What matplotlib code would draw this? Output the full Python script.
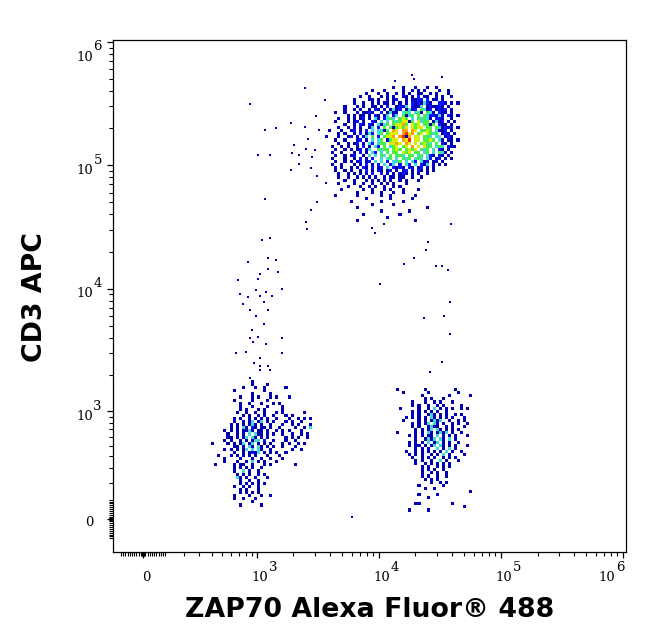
import numpy as np
import matplotlib
matplotlib.use("Agg")
import matplotlib.pyplot as plt
from matplotlib.colors import ListedColormap

# ---- data -----------------------------------------------------------------
# density grids: one char per bin ('.' = empty,
# 1..7 = blue -> red density level), bins are 1/40 of a display unit
top_origin = (3250, 439000)   # upper-left corner of the grid (x, y intensity)
top_grid = [
    "........................1..1...1...1..1.......",
    ".................1...1.....1..1.1.1....1..1...",
    "...............1...1..1..1.1.1..11..1.1...1...",
    ".............1..1...1.1.1..11.1.2.11..1.1..1..",
    "...........1....11.1..1.12..1.1122.2.11.1.....",
    "...........1..1..1.1.11.1.1.1.2121321..221.1.1",
    "........1...1.1..11.1.2..1213.2113.121121.1...",
    "........1..1.1..1.21.1.1312.1312.4312.1212.1..",
    ".....1..1...1.1121..2.1311.343.341.431.211.1..",
    ".........1.1.11.1.21.13.23.4134.4.4322131.21.1",
    "......1..1.1.12.1.31.2343.454.3.43431.221..1..",
    ".....1...1.12.1..21.3.3.4345514.5344.1312.1.1.",
    "........1..1.21.21.3134.45564.545.4414.211.1..",
    "......1..1.1.1..13.2.4.414545.5455.44.431212.1",
    "...1...1..12.1.2.3.3314.65.66.65.4454.3112.1..",
    "......1.1..1.2.132.34.4555.6756.45.5434.121.1.",
    "..1...1..12.1.13.4.2.4556.6716.55.443.33.121..",
    ".....1..1...12.1.3.34.1455.657.55.4454.31.11.1",
    "......1..1.12.1.32.344.5565.65.5.4543.4.21.1..",
    "....1..1.1..1.2.1.32.4.345.45.6.5.544.343.211.",
    ".....1..1.1.12.13..4344.454.4545.434.3.21.1...",
    "....1..1...1.2.1.32.3.4.44.545.44.34.3.431.1..",
    ".....1..1.12..1.3.3.43.4.443.44.34.321.21.1...",
    "....1...1..1.2.1.2..3.34.3.434.343.32.12.1.1..",
    ".....1..1.1.12.12.3.3.2.334.3.32.312.11.1.....",
    "....1..1...1.1.2.1.2.3.23.2.32.3.213.1.1.1....",
    ".....1.1..1.1.21.2.12.3.2121.21.12.1.1........",
    ".....1..1.1..1.2.1.21.12.1.12.1.21.1.1........",
    "......1..1.1.1.1.2..2.1.1.121.1.1..1..........",
    "......1..1..1.1.1.1..1.11.11..1..1............",
    "........1..1...1.1.1.1.1..1.1...1.............",
    "......1....1..1..1..1.1.1...1.................",
    ".........1...1..1.1..1..1.1...................",
    ".......1......1..1...1.1...1....1.............",
    "............1....1..1...1..1..................",
    ".....1......1.......1..1.......1..............",
    "...............1.......1......1...............",
    "..........1.........1......1..................",
    ".................1......1.....................",
    "............1......................1..........",
    "....................1........1................",
    "..............1...........1...................",
    "......................1.......................",
    "............1..................1..............",
]

low_left_origin = (343, 1810)
low_left_grid = [
    "...............1..........",
    "...............1....1",
    "............1...1..1......1",
    ".........1.........1",
    "...............1.....1",
    "...........1...1.1...1.1...1",
    ".........1.....1....1",
    "...........1..1...1...1.1",
    "...........1...1....1....1",
    "...........1.1...1.1.....1",
    "..........1..1..1..1...1.1......1",
    "............1.1..1.1..1...1.1",
    ".........1.1..1.1.1.1..1...1..1.1.1",
    ".........1..1.13.13.1.1...1.1..1",
    "........1.1.1.131.1..1...1..1.1...1",
    "........1.1.31.21.11.1..1....1..1.3",
    "......1.1.1.1131.11.1..1.1.1...1",
    ".......1..1.1.3.311.1.1..1..1..1.1",
    ".......11.1.13.31.1.1.....1.1.1..1",
    "......1.1..1.1.133.2..1...1..1",
    "..1....1.1.13.13.1.1.1...1.1..1.1",
    ".........11.1.31.31.1.1..1...1",
    "......1.1.1.13.3.31..1......1..1",
    ".........1..1.1213.1.1.1..1",
    "....1...1.1.1.1.1...1...1",
    "......1....1...1..1..1...1",
    "......1...1..1.3.1.1...1",
    "...1.....1.11..1...1.1.......1",
    ".........1.1.1.1..1",
    ".........1..3.1..1",
    "..........1.1.1..1.1",
    "..........31.1..1...1",
    "...........1..1..1",
    "...........1.1.1.1.1",
    ".........1..1.1..1",
    "...........1.1...1",
    "...........1.1.1.1",
    ".........1....1...1..1",
    ".........1..1...1",
    "...............1",
    "...........1......1",
]

low_right_origin = (12390, 1647)
low_right_grid = [
    "............................",
    "..1........1.........1",
    "....1.......1.........1",
    "..........1........1......1",
    "...........1.1...1",
    ".......1...1..1.1...1",
    ".......1.1..1..1.1.....1",
    "...1.....1..1.3.1.1.1..1.1",
    ".......1.1.1.1.1..1",
    ".......1.1..131.1.1..1.1",
    ".....1.1.1.1.31.1.1.1...1",
    "....1....1.1.1313..1..1.1",
    ".......1.1.13.31.1..1.1..1",
    ".......1.1..1311..1.1...1",
    "........1.1.13.31.1.1.1",
    "..1.....1.1.31.1313.1..1",
    "......1.1.1.11.3.1.1.1...1",
    "........1..1313.31.3.1",
    "......1.1.1.3.13.1.1..1",
    "......1.11.1.13.31.1.1...1",
    "........1.1.1..3.1.3.1",
    ".....1..1.1.1.1.1.3.1..1",
    "......1.1.1..1.1.3.1....1",
    ".......1..1.1.1..1.1.1",
    "........1.1..1..3.1...1",
    "........1..1.1.1.1.1",
    "..........1.1..1.1.1",
    "..........1.1.1..1",
    "..........1..1.1..1",
    "..........1.1..1..1",
    "...........1.1.1",
    ".............1..1.1",
    ".........1.......1",
    "...........1..1",
    "..........................1",
    ".........1.....1",
    "............1",
    "......................",
    "........11..........1",
    "........................1",
    "......1.....1",
]

# isolated events (log10 of intensity)
single_x_log = [
    2.940, 3.066, 3.157, 3.007, 3.107, 3.066,
    3.398, 3.561, 3.283, 3.398, 3.488, 3.512, 3.422, 3.308, 3.291, 3.349,
    3.406, 3.455, 3.480, 3.283, 3.349, 3.447, 3.496, 3.570, 3.496, 3.447,
    3.414, 3.406,
    4.273, 4.290, 4.134, 4.519,
    3.971, 4.044, 4.593,
    3.041, 3.107, 3.091, 3.157, 2.923, 3.091, 3.024, 3.174, 2.836, 3.007,
    2.990, 3.074, 3.207, 2.854, 2.923, 3.024, 3.124, 2.880, 3.057, 2.940,
    3.091, 2.990, 3.057, 2.957, 2.940, 3.007, 3.207, 2.965, 3.074, 2.820,
    2.906, 3.207, 3.024, 2.973, 3.024, 3.091, 3.024, 3.107, 2.940,
    3.946, 4.404, 4.388, 4.290, 4.208, 4.470, 4.519, 4.568, 4.584, 4.535,
    4.371, 4.584, 4.519, 4.421, 4.011, 3.782,
]
single_y_log = [
    5.497, 5.286, 5.303, 5.084, 5.084, 4.727,
    5.627, 5.529, 5.343, 5.311, 5.400, 5.286, 5.213, 5.165, 5.100, 5.084,
    5.133, 5.068, 5.124, 4.962, 5.011, 4.978, 4.914, 4.857, 4.703, 4.638,
    4.484, 4.541,
    5.732, 5.700, 5.684, 5.716,
    4.452, 4.525, 4.525,
    4.395, 4.411, 4.249, 4.233, 4.217, 4.160, 4.119, 4.136, 4.071, 4.079,
    3.990, 3.974, 3.998, 3.957, 3.933, 3.941, 3.941, 3.876, 3.893, 3.828,
    3.828, 3.779, 3.714, 3.666, 3.601, 3.609, 3.601, 3.568, 3.552, 3.479,
    3.487, 3.479, 3.439, 3.398, 3.374, 3.374, 3.342, 3.342, 3.277,
    4.492, 4.379, 4.314, 4.249, 4.201, 4.184, 4.184, 4.152, 3.893, 3.779,
    3.763, 3.633, 3.406, 3.325, 4.039, 1.0,
]

level_colors = ["#0000b4", "#0a14ff", "#40dcd4", "#46f046",
                "#d8f000", "#ffa000", "#ff2800"]

x_label = "ZAP70 Alexa Fluor® 488"
y_label = "CD3 APC"

# ---- biexponential (arcsinh) scales ----------------------------------------
X_W = 236.0
Y_W = 272.0
BIN = 1 / 40
LN10 = np.log(10)


def make_scale(w):
    def fwd(v):
        return np.arcsinh(np.asarray(v, float) / w) / LN10

    def inv(t):
        return w * np.sinh(np.asarray(t, float) * LN10)

    return fwd, inv


fx, ix = make_scale(X_W)
fy, iy = make_scale(Y_W)


def parse_grid(rows):
    n = max(len(r) for r in rows)
    arr = np.array([[0 if ch == "." else int(ch) for ch in r.ljust(n, ".")]
                    for r in rows], float)
    return np.ma.masked_equal(arr, 0)


fig = plt.figure(figsize=(6.46, 6.41), dpi=100)
fig.patch.set_facecolor("white")
ax = fig.add_axes([113 / 646, 1 - 551.5 / 641, 513 / 646, 511.5 / 641])
ax.set_xscale("function", functions=(fx, ix))
ax.set_yscale("function", functions=(fy, iy))
ax.set_xlim(-141, 1.059e6)
ax.set_ylim(-175, 1.036e6)

cmap = ListedColormap(level_colors)
for origin, rows in [(top_origin, top_grid), (low_left_origin, low_left_grid),
                     (low_right_origin, low_right_grid)]:
    levels = parse_grid(rows)
    nr, nc = levels.shape
    xe = ix(fx(origin[0]) + np.arange(nc + 1) * BIN)
    ye = iy(fy(origin[1]) - np.arange(nr + 1) * BIN)
    ax.pcolormesh(xe, ye, levels, cmap=cmap, vmin=0.5, vmax=7.5,
                  edgecolors="none", antialiased=False)

ax.scatter(10 ** np.array(single_x_log), 10 ** np.array(single_y_log),
           s=4.5, marker="s", color=level_colors[0], linewidths=0)

# ---- ticks ----------------------------------------------------------------
major = [0, 1e3, 1e4, 1e5, 1e6]
minor = list(range(-100, 101, 10)) + [-6, -3, 3, 6]
minor += [m * 10 ** e for e in range(2, 6) for m in range(2, 10)]
for axis in (ax.xaxis, ax.yaxis):
    axis.set_ticks(major)
    axis.set_ticks(minor, minor=True)
    axis.set_ticklabels([])
    axis.set_ticklabels([], minor=True)
ax.tick_params(which="major", direction="out", length=4.4, width=0.9)
ax.tick_params(which="minor", direction="out", length=2.6, width=0.8)
for sp in ax.spines.values():
    sp.set_linewidth(0.9)

P = 0.72  # px -> pt
lab = dict(fontsize=9.5, family="DejaVu Serif", annotation_clip=False)
# x tick labels: (value, base text, exponent, base x shift px)
for v, base, expo, dx in [(0, "0", "", 3), (1e3, "10", "3", 3),
                          (1e4, "10", "4", 3), (1e5, "10", "5", 3),
                          (1e6, "10", "6", -16)]:
    ax.annotate(base, xy=(v, 0), xycoords=("data", "axes fraction"),
                xytext=(dx * P, -26 * P), textcoords="offset points",
                ha="center", va="center", **lab)
    if expo:
        ax.annotate(expo, xy=(v, 0), xycoords=("data", "axes fraction"),
                    xytext=((dx + 9) * P, -16 * P), textcoords="offset points",
                    ha="left", va="center", **lab)
# y tick labels: (value, base, exponent, base dy px, exponent dy px)
for v, base, expo, dyb, dye in [(0, "0", "", -3, 0), (1e3, "10", "3", -5, 5),
                                (1e4, "10", "4", -5, 5), (1e5, "10", "5", -5, 5),
                                (1e6, "10", "6", -16, -5)]:
    ax.annotate(base, xy=(0, v), xycoords=("axes fraction", "data"),
                xytext=(-20 * P, dyb * P), textcoords="offset points",
                ha="right", va="center", **lab)
    if expo:
        ax.annotate(expo, xy=(0, v), xycoords=("axes fraction", "data"),
                    xytext=(-19.5 * P, dye * P), textcoords="offset points",
                    ha="left", va="center", **lab)

fig.text(369.5 / 646, 1 - 610 / 641, x_label, ha="center", va="center",
         fontsize=19.3, fontweight="bold", family="DejaVu Sans")
fig.text(35 / 646, 1 - 297 / 641, y_label, ha="center", va="center",
         rotation=90, fontsize=19.3, fontweight="bold", family="DejaVu Sans")

fig.savefig("out.png", dpi=100, facecolor="white")
